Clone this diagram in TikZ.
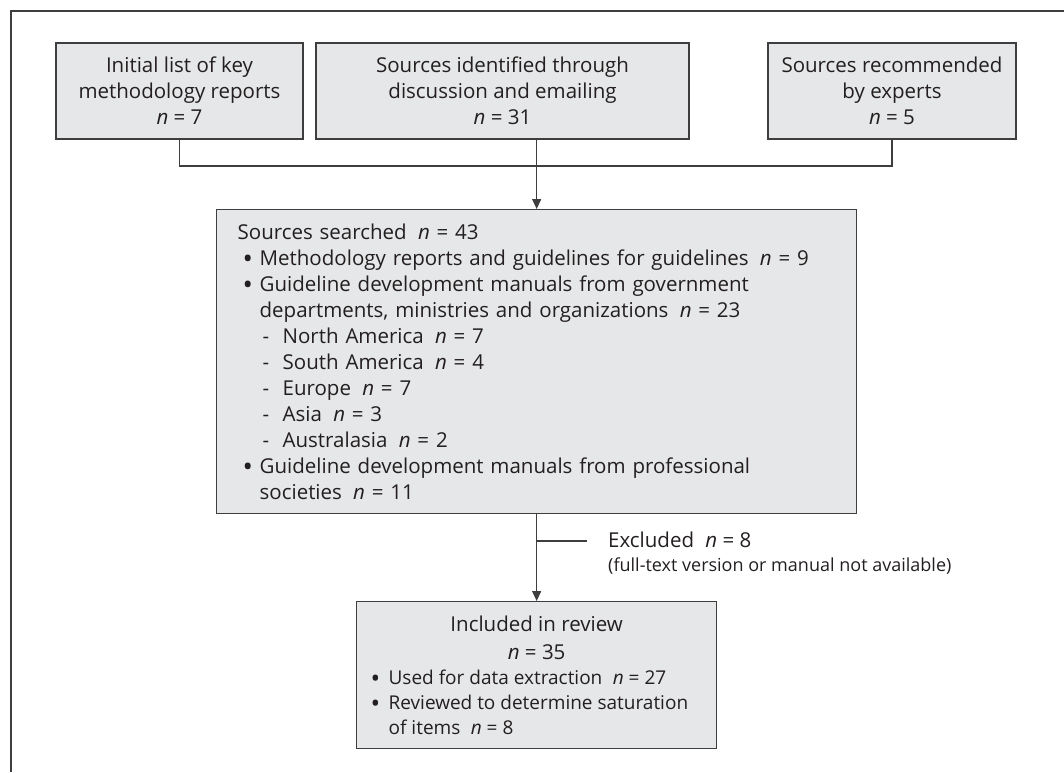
\documentclass[tikz,border=0pt]{standalone}
\usepackage{fontspec}
\setmainfont{Open Sans}
\usetikzlibrary{arrows.meta,positioning,calc}
\definecolor{boxgray}{RGB}{230,231,232}
\definecolor{edgegray}{RGB}{62,62,62}
\definecolor{inkgray}{RGB}{35,31,32}
\newcommand{\nsp}{\hspace{0.55em}}
\newcommand{\nn}{\textit{n}}
\newcommand{\bull}{\raisebox{-3pt}{\scalebox{1.35}{\textbullet}}}
\newcommand{\itm}{\hspace*{5pt}\makebox[17pt][l]{\bull}}
\newcommand{\subitm}{\hspace*{25pt}\makebox[20pt][l]{-}}
\newcommand{\cont}{\hspace*{22pt}}
\newcommand{\itmb}{\makebox[18pt][l]{\bull}}
\tikzset{
  srcbox/.style={
    draw = edgegray,
    fill = boxgray,
    line width = 1.3pt,
    align = center,
    inner sep = 0pt,
    minimum height = 96pt,
    text = inkgray
  },
  listbox/.style={
    draw = edgegray,
    fill = boxgray,
    line width = 1.3pt,
    align = left,
    inner ysep = 0pt,
    text = inkgray
  },
  link/.style={
    draw = edgegray,
    line width = 1.3pt
  },
  arrow/.style={
    link,
    -{Triangle[length=10pt,width=9pt]}
  },
  note/.style={
    inner sep = 0pt,
    text = inkgray
  },
  small/.style={
    font = \fontsize{18}{22}\selectfont
  }
}

\begin{document}
\begin{tikzpicture}[x=1pt, y=-1pt, font=\fontsize{20.5}{26}\selectfont]
    \useasboundingbox (0,0) rectangle (1064,772);
    % frame
    \draw[edgegray, line width=1.3pt] (11,772) -- (11,11) -- (1064,11);
    % sources
    \node[srcbox, minimum width=247pt] (src1) at (179.5,91)
        {Initial list of key\\methodology reports\\\nn{} = 7};
    \node[srcbox, minimum width=373pt] (src2) at (502.5,91)
        {Sources identified through\\discussion and emailing\\\nn{} = 31};
    \node[srcbox, minimum width=248pt] (src3) at (892,91)
        {Sources recommended\\by experts\\\nn{} = 5};
    \node[listbox, anchor=north west, minimum width=640pt, minimum height=304pt,
        text width=598pt, inner xsep=21pt] (searched) at (216,209)
        {Sources searched\nsp\nn{} = 43\\
        \itm Methodology reports and guidelines for guidelines\nsp\nn{} = 9\\
        \itm Guideline development manuals from government\\
        \cont departments, ministries and organizations\nsp\nn{} = 23\\
        \subitm North America\nsp\nn{} = 7\\
        \subitm South America\nsp\nn{} = 4\\
        \subitm Europe\nsp\nn{} = 7\\
        \subitm Asia\nsp\nn{} = 3\\
        \subitm Australasia\nsp\nn{} = 2\\
        \itm Guideline development manuals from professional\\
        \cont societies\nsp\nn{} = 11};
    \node[listbox, anchor=north west, minimum width=360pt, minimum height=147pt,
        text width=332pt, inner xsep=14pt, align=none] (incl) at (356,601)
        {{\centering Included in review\\[2pt]\nn{} = 35\par}
        {\fontsize{19}{25}\selectfont\raggedright
        \itmb Used for data extraction\nsp\nn{} = 27\\
        \itmb Reviewed to determine saturation\\
        \hspace*{18pt}of items\nsp\nn{} = 8\par}};
    % excluded
    \node[note, anchor=base west] (excl) at (608,547) {Excluded\nsp\nn{} = 8};
    \node[note, small, anchor=base west] (exwhy) at (608,571)
        {(full-text version or manual not available)};
    \coordinate (join) at (searched.north |- 0,166);
    \coordinate (cut) at (587,541);
    % connectors
    \draw[link] (src1.south) |- (join) -| (src3.south);
    \draw[arrow] (src2.south -| searched.north) -- (searched.north);
    \draw[arrow] (searched.south) -- (incl.north);
    \draw[link] (searched.south |- cut) -- (cut);
\end{tikzpicture}
\end{document}
